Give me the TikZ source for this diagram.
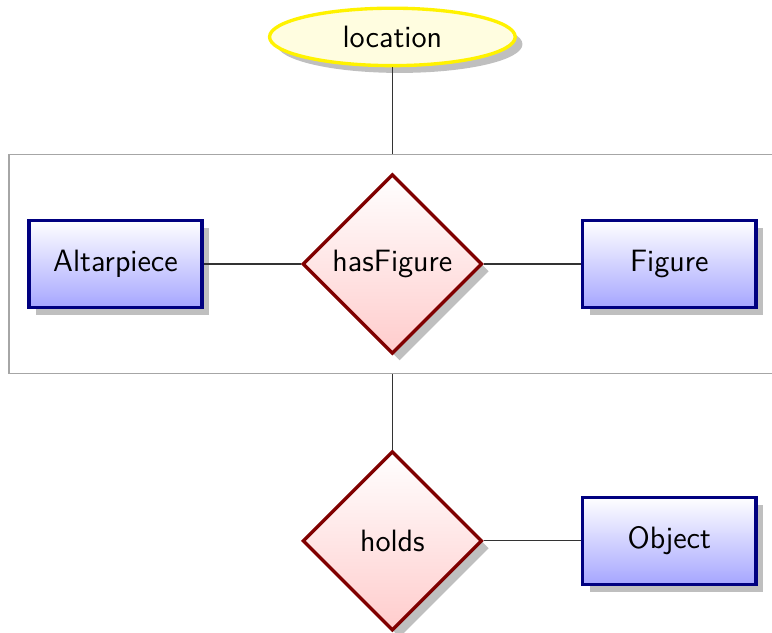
\documentclass[tikz,border=0pt]{standalone}
\usepackage{tikz}
\usetikzlibrary{shapes,shadows,positioning,fit}

\begin{document}
\begin{tikzpicture}[
    node distance=1.22cm,
    font=\sffamily\fontsize{11}{13}\selectfont,
    shadowed/.style={drop shadow={shadow xshift=2.6pt, shadow yshift=-2.6pt}},
    entity/.style={rectangle, draw=blue!50!black, very thick, top color=white, bottom color=blue!35, minimum width=2.17cm, minimum height=1.09cm, shadowed},
    relation/.style={diamond, aspect=1, inner sep=0pt, draw=red!50!black, very thick, top color=white, bottom color=red!20, minimum width=2.25cm, minimum height=2.25cm, shadowed},
    attribute/.style={ellipse, draw=yellow, very thick, fill=yellow!12, minimum width=3.08cm, minimum height=0.72cm, shadowed},
    aggregation/.style={draw=black!35, inner sep=6.5pt},
    link/.style={draw=black!80}
]
    \useasboundingbox (-4.92,-4.62) rectangle (4.76,3.31);

    \node[relation] (hasfig) at (0,0) {hasFigure};
    \node[entity, left=of hasfig] (altar) {Altarpiece};
    \node[entity, right=of hasfig] (fig) {Figure};
    \node[attribute, above=1.32cm of hasfig] (location) {location};
    \node[aggregation, fit=(altar)(hasfig)(fig)] (aggr) {};
    \node[relation, below=1.18cm of hasfig] (holds) {holds};
    \node[entity, right=of holds] (object) {Object};

    \draw[link] (altar) -- (hasfig);
    \draw[link] (hasfig) -- (fig);
    \draw[link] (location.south) -- (aggr.north);
    \draw[link] (aggr.south) -- (holds.north);
    \draw[link] (holds) -- (object);
\end{tikzpicture}
\end{document}
